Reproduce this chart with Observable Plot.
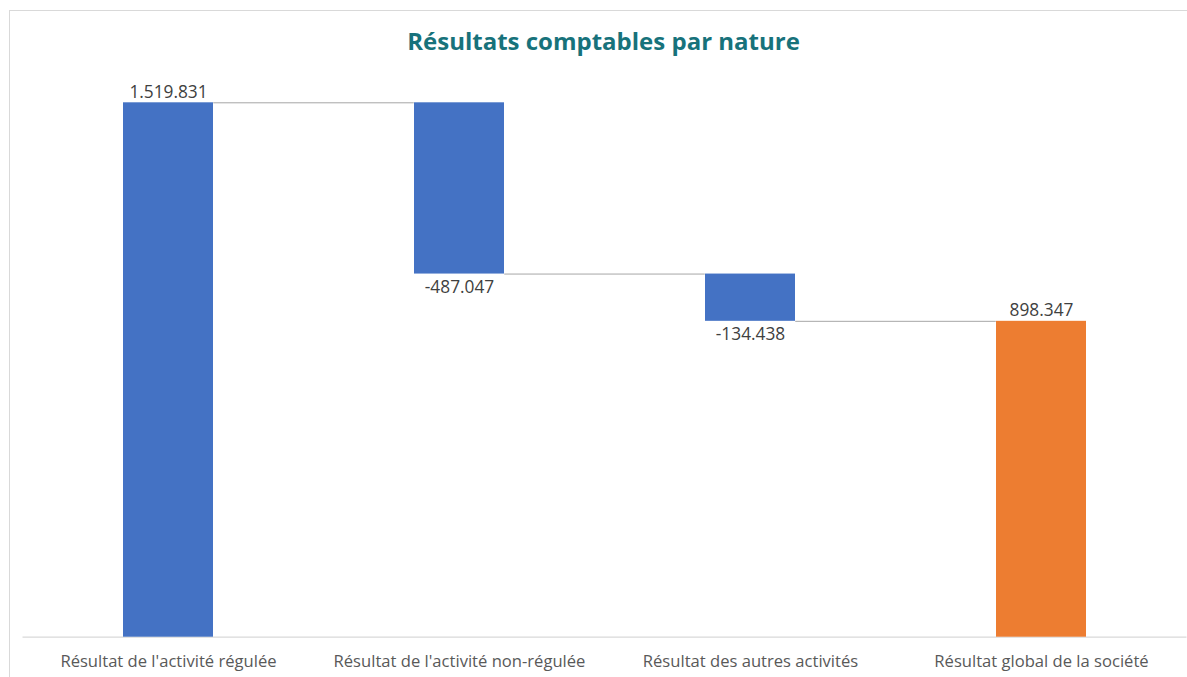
<!DOCTYPE html>
<html>
<head>
<meta charset="utf-8">
<script src="https://cdn.jsdelivr.net/npm/d3@7"></script>
<script src="https://cdn.jsdelivr.net/npm/@observablehq/plot@0.6"></script>
<style>
  html, body { margin: 0; padding: 0; background: #fff; }
  body { width: 1187px; height: 677px; position: relative; overflow: hidden; font-family: "Open Sans", sans-serif; }
  #frame { position: absolute; left: 9px; top: 10px; width: 1200px; height: 700px; border: 1px solid #d9d9d9; box-sizing: border-box; }
  #title { position: absolute; left: 0; width: 1207px; top: 24px; text-align: center; font-family: "Open Sans", sans-serif; font-weight: 700; font-size: 24px; line-height: 34px; color: #17727b; }
  #chart { position: absolute; left: 0; top: 0; }
</style>
</head>
<body>
<div id="frame"></div>
<div id="chart"></div>
<div id="title">Résultats comptables par nature</div>
<script>
const categories = [
  "Résultat de l'activité régulée",
  "Résultat de l'activité non-régulée",
  "Résultat des autres activités",
  "Résultat global de la société"
];
const values = [1519831, -487047, -134438, 898347];
const isTotal = [false, false, false, true];

// waterfall table built from the arrays
let running = 0;
const rows = categories.map((c, i) => {
  let start, end;
  if (isTotal[i]) { start = 0; end = values[i]; }
  else { start = running; end = running + values[i]; }
  running = end;
  return { cat: c, value: values[i], start, end, kind: isTotal[i] ? "total" : "delta", above: values[i] >= 0 };
});
const links = rows.slice(0, -1).map((r, i) => ({ x1: r.cat, x2: rows[i + 1].cat, y: r.end }));

const W = 1187, H = 677;
const mL = 22.5, mR = 0.5, mT = 102.3, mB = 40.3;
const pInner = 0.69, pOuter = 0.345;
const step = (W - mL - mR) / (categories.length - pInner + 2 * pOuter);
const bw = step * (1 - pInner);

const fmt = d3.formatLocale({ decimal: ",", thousands: ".", grouping: [3], currency: ["", " €"], minus: "-" }).format(",d");

const chart = Plot.plot({
  width: W,
  height: H,
  marginLeft: mL,
  marginRight: mR,
  marginTop: mT,
  marginBottom: mB,
  style: { fontFamily: "Open Sans, sans-serif", background: "transparent", overflow: "visible" },
  x: { domain: categories, paddingInner: pInner, paddingOuter: pOuter, align: 0.5, label: null },
  y: { domain: [0, values[0]], axis: null },
  color: { domain: ["delta", "total"], range: ["#4472c4", "#ed7d31"] },
  marks: [
    Plot.ruleY([0], { stroke: "#d9d9d9", strokeWidth: 1.2 }),
    Plot.ruleY(links, { x1: "x1", x2: "x2", y: "y", stroke: "#a6a6a6", strokeWidth: 1, insetLeft: bw, insetRight: bw }),
    Plot.barY(rows, { x: "cat", y1: "start", y2: "end", fill: "kind" }),
    Plot.text(rows.filter(d => d.above), { x: "cat", y: "end", text: d => fmt(d.value), lineAnchor: "bottom", dy: -5, fontSize: 17.3, fill: "#404040" }),
    Plot.text(rows.filter(d => !d.above), { x: "cat", y: "end", text: d => fmt(d.value), lineAnchor: "top", dy: 6.5, fontSize: 17.3, fill: "#404040" }),
    Plot.axisX({ tickSize: 0, tickPadding: 18.5, fontSize: 16.6, color: "#595959", label: null })
  ]
});
document.getElementById("chart").appendChild(chart);
</script>
</body>
</html>
